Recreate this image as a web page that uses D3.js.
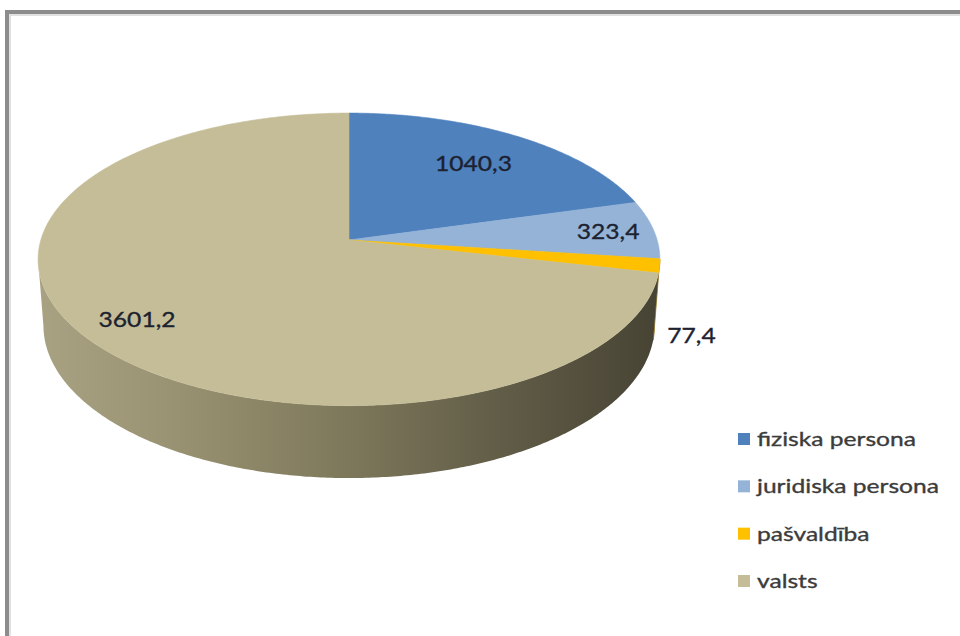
<!DOCTYPE html>
<html><head><meta charset="utf-8">
<script src="https://cdn.jsdelivr.net/npm/d3@7"></script>
<style>
html,body{margin:0;padding:0;background:#fff;overflow:hidden;width:960px;height:636px;}
svg{display:block;overflow:hidden;}
</style></head>
<body>
<svg id="chart" width="960" height="636"></svg>
<script>
// ---- data ----
const categories = ["fiziska persona", "juridiska persona", "pašvaldība", "valsts"];
const values = [1040.3, 323.4, 77.4, 3601.2];
const valueLabels = ["1040,3", "323,4", "77,4", "3601,2"];
const topColors = ["#4f81bd", "#95b3d7", "#ffc000", "#c4bd97"];
const sideColors = ["#2f4d73", "#5a6c83", "#8a6a10", "#8a8466"];

const svg = d3.select("#chart");

// frame (top and left edges visible)
svg.append("path").attr("d", "M7,640V12H965").attr("fill", "none")
  .attr("stroke", "#8c8c8c").attr("stroke-width", 4);
svg.append("path").attr("d", "M10,640V15H965").attr("fill", "none")
  .attr("stroke", "#d8d8d8").attr("stroke-width", 1.5);

// ---- 3D projection ----
const cx = 349, cy = 240;
const alpha = 27.8 * Math.PI / 180;
const sA = Math.sin(alpha), cA = Math.cos(alpha);
const D = 7.557 * cA;
const f = 2060;
const H = 0.2455;
function proj(theta, r, Y) {
  const X = r * Math.sin(theta), Z = -r * Math.cos(theta);
  const e = Z * cA + Y * sA;
  const v = Z * sA - Y * cA;
  const d = D - e;
  return [cx + f * X / d, cy + f * v / d];
}

const pie = d3.pie().sort(null).value(d => d).startAngle(0).endAngle(2 * Math.PI);
const arcs = pie(values);

// silhouette angle (rightmost point of top rim)
let silA = Math.PI / 2, best = -1;
for (let t = 0; t <= Math.PI; t += 0.0005) {
  const x = proj(t, 1, 0)[0];
  if (x > best) { best = x; silA = t; }
}
const visLo = silA, visHi = 2 * Math.PI - silA;

function rimPts(a0, a1, Y) {
  const n = Math.max(2, Math.ceil(Math.abs(a1 - a0) / 0.01));
  const pts = [];
  for (let i = 0; i <= n; i++) pts.push(proj(a0 + (a1 - a0) * i / n, 1, Y));
  return pts;
}

// gradient for sides
const defs = svg.append("defs");
const xL = proj(2 * Math.PI - silA, 1, 0)[0], xR = proj(silA, 1, 0)[0];
const gV = defs.append("linearGradient").attr("id", "gValsts")
  .attr("gradientUnits", "userSpaceOnUse").attr("x1", xL).attr("x2", xR).attr("y1", 0).attr("y2", 0);
[[0, "#a8a282"], [0.2, "#9a9474"], [0.45, "#837d5f"], [0.7, "#66614a"], [1, "#474334"]]
  .forEach(([o, c]) => gV.append("stop").attr("offset", o).attr("stop-color", c));

const line = d3.line();
const sides = svg.append("g");
arcs.forEach((a, i) => {
  const a0 = Math.max(a.startAngle, visLo), a1 = Math.min(a.endAngle, visHi);
  if (a1 <= a0) return;
  const top = rimPts(a0, a1, 0);
  const bot = rimPts(a1, a0, -H);
  sides.append("path").attr("d", line(top.concat(bot)) + "Z")
    .attr("fill", i === 3 ? "url(#gValsts)" : sideColors[i])
    .attr("stroke", i === 3 ? "none" : sideColors[i]).attr("stroke-width", 0.5);
});

// top faces
const tops = svg.append("g");
const apex = proj(0, 0, 0);
arcs.forEach((a, i) => {
  const pts = [apex].concat(rimPts(a.startAngle, a.endAngle, 0));
  tops.append("path").attr("d", line(pts) + "Z")
    .attr("fill", topColors[i]).attr("stroke", topColors[i]).attr("stroke-width", 0.6);
});

// labels
const font = "Lato, 'Open Sans', sans-serif";
const labelR = [0.72, 0.85, null, 0.82];
const lab = svg.append("g").attr("font-family", font).attr("font-size", 22)
  .attr("fill", "#1c2230").attr("stroke", "#1c2230").attr("stroke-width", 0.35);
arcs.forEach((a, i) => {
  const mid = (a.startAngle + a.endAngle) / 2;
  let p, anchor, dx = 0, dy = 0;
  if (labelR[i] !== null) {
    p = proj(mid, labelR[i], 0); anchor = "middle"; dy = 8;
  } else {
    p = proj(mid, 1, -H); anchor = "start"; dx = 13; dy = 10;
  }
  lab.append("g").attr("transform", `translate(${p[0] + dx},${p[1] + dy}) scale(1.12,1)`)
    .append("text").attr("text-anchor", anchor).text(valueLabels[i]);
});

// legend
const leg = svg.append("g").attr("font-family", font).attr("font-size", 20)
  .attr("fill", "#3c3c3c").attr("stroke", "#3c3c3c").attr("stroke-width", 0.35);
const rowY = d3.scalePoint().domain(categories).range([446, 588]);
categories.forEach((c, i) => {
  const y = rowY(c);
  leg.append("rect").attr("x", 738).attr("y", y - 13).attr("width", 12).attr("height", 12)
    .attr("fill", topColors[i]).attr("stroke", "none");
  leg.append("g").attr("transform", `translate(757,${y}) scale(1.23,1)`)
    .append("text").text(c);
});
</script>
</body></html>
